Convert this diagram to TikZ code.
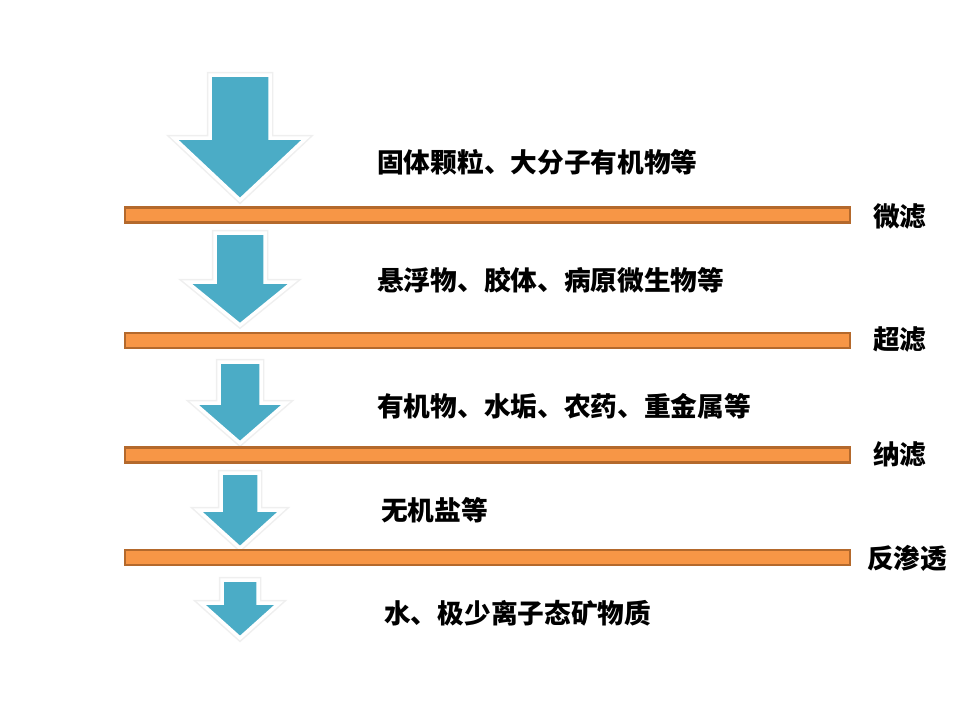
\documentclass[tikz,border=0pt]{standalone}
\usepackage{fontspec}
\newfontfamily\cjk{Noto Sans CJK SC}
\definecolor{aqua}{HTML}{4BACC6}
\definecolor{barfill}{HTML}{F79646}
\definecolor{barline}{HTML}{B4692C}
\newcommand\flowarrow[6]{% cx, shaft half, top, head y, head half, tip
  \path[draw=black!12,line width=6.5pt,line join=miter,opacity=0.5]
    (#1-#2,#3)--(#1+#2,#3)--(#1+#2,#4)--(#1+#5,#4)--(#1,#6)--(#1-#5,#4)--(#1-#2,#4)--cycle;
  \path[flowarrowstyle]
    (#1-#2,#3)--(#1+#2,#3)--(#1+#2,#4)--(#1+#5,#4)--(#1,#6)--(#1-#5,#4)--(#1-#2,#4)--cycle;
}
\begin{document}
\begin{tikzpicture}[x=1pt,y=-1pt,
  flowarrowstyle/.style={fill=aqua,draw=white,line width=3.5pt,line join=miter},
  bar/.style={fill=barfill,draw=barline,line width=2.2pt},
  desc/.style={anchor=west,inner sep=0pt,font=\cjk\bfseries\fontsize{26.7}{27}\selectfont,text=black},
  lab/.style={anchor=west,inner sep=0pt,font=\cjk\bfseries\fontsize{26.7}{27}\selectfont,text=black}]
\useasboundingbox[fill=white] (0,0) rectangle (960,720);

% arrows
\flowarrow{240}{30}{75}{138}{66}{200}
\flowarrow{240}{25}{233}{282}{53}{325}
\flowarrow{240}{21}{362}{403}{46}{443}
\flowarrow{240}{19}{473}{510}{42}{548}
\flowarrow{240}{18}{580}{603}{39}{638}

% bars
\draw[bar] (125,207.5) rectangle (850,222.5);
\draw[bar] (125,333) rectangle (850,348);
\draw[bar] (125,447.5) rectangle (850,462.5);
\draw[bar] (125,550) rectangle (850,565);

% descriptions
\node[desc] (t1) at (377,162) {固体颗粒、大分子有机物等};
\node[desc] (t2) at (377,280) {悬浮物、胶体、病原微生物等};
\node[desc] (t3) at (377,406) {有机物、水垢、农药、重金属等};
\node[desc] (t4) at (381,510) {无机盐等};
\node[desc] (t5) at (384,613) {水、极少离子态矿物质};

% labels
\node[lab] (l1) at (873,216) {微滤};
\node[lab] (l2) at (873,340) {超滤};
\node[lab] (l3) at (873,454) {纳滤};
\node[lab] (l4) at (867,558) {反渗透};
\end{tikzpicture}
\end{document}
